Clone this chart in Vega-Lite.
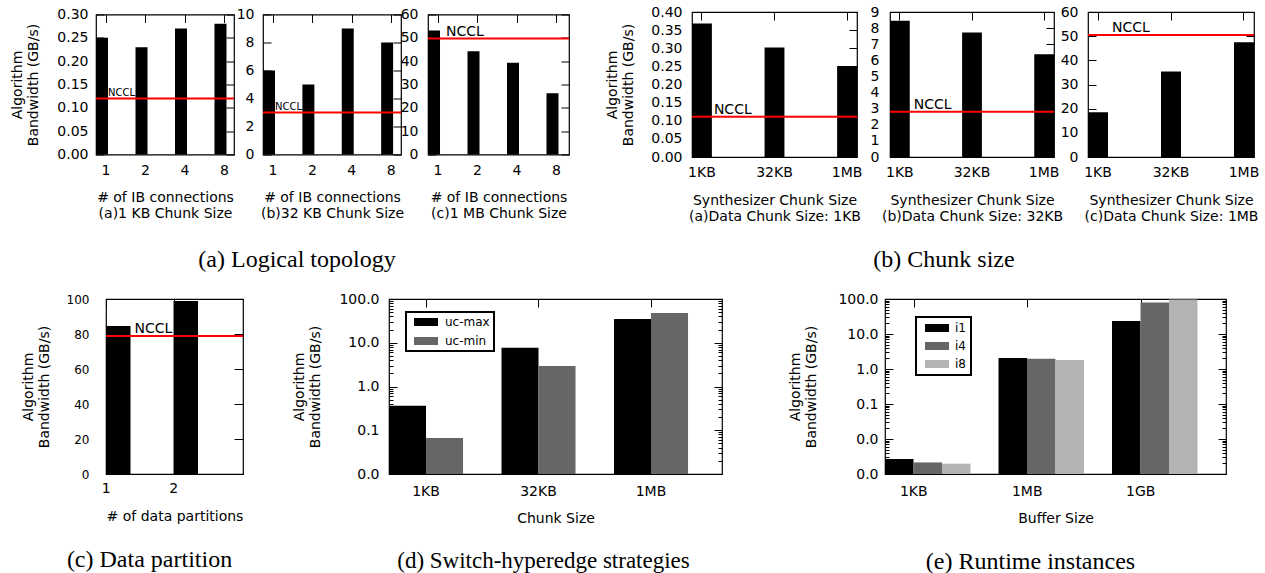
{
"$schema": "https://vega.github.io/schema/vega-lite/v6.json",
"padding": {"left": 10, "top": 4, "right": 0, "bottom": 0},
"config": {
  "font": "DejaVu Sans",
  "view": {"stroke": "black", "strokeWidth": 1.2},
  "axis": {"labelFontSize": 14, "titleFontSize": 14, "titleFontWeight": "normal", "labelColor": "black", "titleColor": "black", "tickColor": "black", "domain": false, "grid": false, "labelFont": "DejaVu Sans", "titleFont": "DejaVu Sans", "titleLineHeight": 16, "tickWidth": 1},
  "legend": {"strokeWidth": 2},
  "title": {"font": "Liberation Serif", "fontSize": 24, "fontWeight": "normal", "orient": "bottom", "anchor": "middle", "color": "black"}
},
"spacing": 287,
"bounds": "flush",
"resolve": {"scale": {"color": "independent", "xOffset": "independent"}, "legend": {"color": "independent"}},
"vconcat": [
{"hconcat": [
 {"width": 138, "height": 140,
  "layer": [
   {"data": {"values": [{"n":"1","bw":0.25},{"n":"2","bw":0.23},{"n":"4","bw":0.27},{"n":"8","bw":0.28}]},
    "mark": {"type":"bar","color":"black"},
    "encoding": {
     "x": {"field":"n","type":"ordinal","scale":{"domain":["1","2","4","8"],"paddingInner":0.696,"paddingOuter":0.095,"align":0},"axis":{"labelAngle":0,"ticks":false,"labelOffset":4,"labelPadding":9,"title":["# of IB connections","(a)1 KB Chunk Size"],"titlePadding":13}},
     "y": {"field":"bw","type":"quantitative","scale":{"domain":[0,0.3],"nice":false},"axis":{"values":[0,0.05,0.1,0.15,0.2,0.25,0.3],"format":".2f","tickSize":-8,"labelPadding":16,"title":["Algorithm","Bandwidth (GB/s)"],"titlePadding":16}}
    }},
   {"data": {"values":[{"v":0.12,"at":"1","t":"NCCL"}]},
    "mark": {"type":"rule","color":"red","strokeWidth":2},
    "encoding": {"y":{"field":"v","type":"quantitative","axis":null}}},
   {"data": {"values":[{"v":0.12,"at":"1","t":"NCCL"}]},
    "mark": {"type":"text","align":"left","baseline":"alphabetic","fontSize":10,"dy":-3,"color":"black"},
    "encoding": {
     "x":{"field":"at","type":"ordinal","bandPosition":1,"axis":{"orient":"top","labels":false,"tickSize":-8,"tickOffset":4,"title":null}},
     "y":{"field":"v","type":"quantitative","axis":{"orient":"right","labels":false,"tickSize":-8,"title":null,"values":[0,0.05,0.1,0.15,0.2,0.25,0.3]}},
     "text":{"field":"t"}}}
  ],
  "resolve":{"axis":{"x":"independent","y":"independent"}}},
 {"width": 29, "height": 10, "data": {"values": []}, "mark": "rule", "encoding": {}, "view": {"stroke": null}},
 {"width": 138, "height": 140,
  "title": {"text": "(a) Logical topology", "dx": -35, "offset": 27},
  "layer": [
   {"data": {"values": [{"n":"1","bw":6},{"n":"2","bw":5},{"n":"4","bw":9},{"n":"8","bw":8}]},
    "mark": {"type":"bar","color":"black"},
    "encoding": {
     "x": {"field":"n","type":"ordinal","scale":{"domain":["1","2","4","8"],"paddingInner":0.696,"paddingOuter":0.1,"align":0},"axis":{"labelAngle":0,"ticks":false,"labelOffset":4,"labelPadding":9,"title":["# of IB connections","(b)32 KB Chunk Size"],"titlePadding":13}},
     "y": {"field":"bw","type":"quantitative","scale":{"domain":[0,10],"nice":false},"axis":{"values":[0,2,4,6,8,10],"format":"d","tickSize":-8,"labelPadding":17,"title":null}}
    }},
   {"data": {"values":[{"v":3,"at":"1","t":"NCCL"}]},
    "mark": {"type":"rule","color":"red","strokeWidth":2},
    "encoding": {"y":{"field":"v","type":"quantitative","axis":null}}},
   {"data": {"values":[{"v":3,"at":"1","t":"NCCL"}]},
    "mark": {"type":"text","align":"left","baseline":"alphabetic","fontSize":10,"dy":-3,"color":"black"},
    "encoding": {
     "x":{"field":"at","type":"ordinal","bandPosition":1,"axis":{"orient":"top","labels":false,"tickSize":-8,"tickOffset":4,"title":null}},
     "y":{"field":"v","type":"quantitative","axis":{"orient":"right","labels":false,"tickSize":-8,"title":null,"values":[0,2,4,6,8,10]}},
     "text":{"field":"t"}}}
  ],
  "resolve":{"axis":{"x":"independent","y":"independent"}}},
 {"width": 27, "height": 10, "data": {"values": []}, "mark": "rule", "encoding": {}, "view": {"stroke": null}},
 {"width": 141, "height": 140,
  "layer": [
   {"data": {"values": [{"n":"1","bw":53.1},{"n":"2","bw":44.3},{"n":"4","bw":39.3},{"n":"8","bw":26.3}]},
    "mark": {"type":"bar","color":"black"},
    "encoding": {
     "x": {"field":"n","type":"ordinal","scale":{"domain":["1","2","4","8"],"paddingInner":0.696,"paddingOuter":0.133,"align":0},"axis":{"labelAngle":0,"ticks":false,"labelOffset":4,"labelPadding":9,"title":["# of IB connections","(c)1 MB Chunk Size"],"titlePadding":13}},
     "y": {"field":"bw","type":"quantitative","scale":{"domain":[0,60],"nice":false},"axis":{"values":[0,10,20,30,40,50,60],"format":"d","tickSize":-8,"labelPadding":18,"title":null}}
    }},
   {"data": {"values":[{"v":49.7,"at":"1","t":"NCCL"}]},
    "mark": {"type":"rule","color":"red","strokeWidth":2},
    "encoding": {"y":{"field":"v","type":"quantitative","axis":null}}},
   {"data": {"values":[{"v":49.7,"at":"1","t":"NCCL"}]},
    "mark": {"type":"text","align":"left","baseline":"alphabetic","fontSize":14,"dx":6,"dy":-3,"color":"black"},
    "encoding": {
     "x":{"field":"at","type":"ordinal","bandPosition":1,"axis":{"orient":"top","labels":false,"tickSize":-8,"tickOffset":4,"title":null}},
     "y":{"field":"v","type":"quantitative","axis":{"orient":"right","labels":false,"tickSize":-8,"title":null,"values":[0,10,20,30,40,50,60]}},
     "text":{"field":"t"}}}
  ],
  "resolve":{"axis":{"x":"independent","y":"independent"}}},
 {"width": 123, "height": 10, "data": {"values": []}, "mark": "rule", "encoding": {}, "view": {"stroke": null}},
 {"width": 165, "height": 145,
  "layer": [
   {"data": {"values": [{"c":"1KB","bw":0.368},{"c":"32KB","bw":0.302},{"c":"1MB","bw":0.251}]},
    "mark": {"type":"bar","color":"black"},
    "encoding": {
     "x": {"field":"c","type":"nominal","scale":{"domain":["1KB","32KB","1MB"],"paddingInner":0.726,"paddingOuter":0},"axis":{"labelAngle":0,"ticks":false,"labelPadding":8,"title":["Synthesizer Chunk Size","(a)Data Chunk Size: 1KB"],"titlePadding":14}},
     "y": {"field":"bw","type":"quantitative","scale":{"domain":[0,0.4],"nice":false},"axis":{"values":[0,0.05,0.1,0.15,0.2,0.25,0.3,0.35,0.4],"format":".2f","tickSize":-8,"labelPadding":18,"title":["Algorithm","Bandwidth (GB/s)"],"titlePadding":15}}
    }},
   {"data": {"values":[{"v":0.111,"at":"1KB","t":"NCCL"}]},
    "mark": {"type":"rule","color":"red","strokeWidth":2},
    "encoding": {"y":{"field":"v","type":"quantitative","axis":null}}},
   {"data": {"values":[{"v":0.111,"at":"1KB","t":"NCCL"}]},
    "mark": {"type":"text","align":"left","baseline":"alphabetic","fontSize":14,"dx":2,"dy":-3,"color":"black"},
    "encoding": {
     "x":{"field":"at","type":"nominal","bandPosition":1,"axis":{"orient":"top","labels":false,"tickSize":-8,"title":null}},
     "y":{"field":"v","type":"quantitative","axis":{"orient":"right","labels":false,"tickSize":-8,"title":null,"values":[0,0.05,0.1,0.15,0.2,0.25,0.3,0.35,0.4]}},
     "text":{"field":"t"}}}
  ],
  "resolve":{"axis":{"x":"independent","y":"independent"}}},
 {"width": 33, "height": 10, "data": {"values": []}, "mark": "rule", "encoding": {}, "view": {"stroke": null}},
 {"width": 164, "height": 145,
  "title": {"text": "(b) Chunk size", "dx": -28, "offset": 25},
  "layer": [
   {"data": {"values": [{"c":"1KB","bw":8.45},{"c":"32KB","bw":7.73},{"c":"1MB","bw":6.38}]},
    "mark": {"type":"bar","color":"black"},
    "encoding": {
     "x": {"field":"c","type":"nominal","scale":{"domain":["1KB","32KB","1MB"],"paddingInner":0.726,"paddingOuter":0},"axis":{"labelAngle":0,"ticks":false,"labelPadding":8,"title":["Synthesizer Chunk Size","(b)Data Chunk Size: 32KB"],"titlePadding":14}},
     "y": {"field":"bw","type":"quantitative","scale":{"domain":[0,9],"nice":false},"axis":{"values":[0,1,2,3,4,5,6,7,8,9],"format":"d","tickSize":-8,"labelPadding":19,"title":null}}
    }},
   {"data": {"values":[{"v":2.81,"at":"1KB","t":"NCCL"}]},
    "mark": {"type":"rule","color":"red","strokeWidth":2},
    "encoding": {"y":{"field":"v","type":"quantitative","axis":null}}},
   {"data": {"values":[{"v":2.81,"at":"1KB","t":"NCCL"}]},
    "mark": {"type":"text","align":"left","baseline":"alphabetic","fontSize":14,"dx":4,"dy":-3,"color":"black"},
    "encoding": {
     "x":{"field":"at","type":"nominal","bandPosition":1,"axis":{"orient":"top","labels":false,"tickSize":-8,"title":null}},
     "y":{"field":"v","type":"quantitative","axis":{"orient":"right","labels":false,"tickSize":-8,"title":null,"values":[0,1,2,3,4,5,6,7,8,9]}},
     "text":{"field":"t"}}}
  ],
  "resolve":{"axis":{"x":"independent","y":"independent"}}},
 {"width": 34, "height": 10, "data": {"values": []}, "mark": "rule", "encoding": {}, "view": {"stroke": null}},
 {"width": 166, "height": 145,
  "layer": [
   {"data": {"values": [{"c":"1KB","bw":18.5},{"c":"32KB","bw":35.4},{"c":"1MB","bw":47.5}]},
    "mark": {"type":"bar","color":"black"},
    "encoding": {
     "x": {"field":"c","type":"nominal","scale":{"domain":["1KB","32KB","1MB"],"paddingInner":0.726,"paddingOuter":0},"axis":{"labelAngle":0,"ticks":false,"labelPadding":8,"title":["Synthesizer Chunk Size","(c)Data Chunk Size: 1MB"],"titlePadding":14}},
     "y": {"field":"bw","type":"quantitative","scale":{"domain":[0,60],"nice":false},"axis":{"values":[0,10,20,30,40,50,60],"format":"d","tickSize":-8,"labelPadding":18,"title":null}}
    }},
   {"data": {"values":[{"v":50.5,"at":"1KB","t":"NCCL"}]},
    "mark": {"type":"rule","color":"red","strokeWidth":2},
    "encoding": {"y":{"field":"v","type":"quantitative","axis":null}}},
   {"data": {"values":[{"v":50.5,"at":"1KB","t":"NCCL"}]},
    "mark": {"type":"text","align":"left","baseline":"alphabetic","fontSize":14,"dx":4,"dy":-3,"color":"black"},
    "encoding": {
     "x":{"field":"at","type":"nominal","bandPosition":1,"axis":{"orient":"top","labels":false,"tickSize":-8,"title":null}},
     "y":{"field":"v","type":"quantitative","axis":{"orient":"right","labels":false,"tickSize":-8,"title":null,"values":[0,10,20,30,40,50,60]}},
     "text":{"field":"t"}}}
  ],
  "resolve":{"axis":{"x":"independent","y":"independent"}}}
 ], "spacing": 0, "bounds": "flush", "center": true},
{"hconcat": [
 {"width": 10, "height": 10, "data": {"values": []}, "mark": "rule", "encoding": {}, "view": {"stroke": null}},
 {"width": 137, "height": 175,
  "title": {"text": "(c) Data partition", "dx": -25, "offset": 25},
  "layer": [
   {"data": {"values": [{"n":"1","bw":84.6},{"n":"2","bw":98.9}]},
    "mark": {"type":"bar","color":"black"},
    "encoding": {
     "x": {"field":"n","type":"ordinal","scale":{"domain":["1","2"],"paddingInner":0.637,"paddingOuter":0.333,"align":0},"axis":{"labelAngle":0,"ticks":false,"labelOffset":-12,"labelPadding":7,"title":"# of data partitions","titlePadding":14}},
     "y": {"field":"bw","type":"quantitative","scale":{"domain":[0,100],"nice":false},"axis":{"values":[0,20,40,60,80,100],"format":"d","tickSize":-8,"labelFontSize":12,"labelPadding":25,"title":["Algorithm","Bandwidth (GB/s)"],"titlePadding":15}}
    }},
   {"data": {"values":[{"v":78.9,"at":"1","t":"NCCL"}]},
    "mark": {"type":"rule","color":"red","strokeWidth":2},
    "encoding": {"y":{"field":"v","type":"quantitative","axis":null}}},
   {"data": {"values":[{"v":78.9,"at":"1","t":"NCCL"}]},
    "mark": {"type":"text","align":"left","baseline":"alphabetic","fontSize":14,"dx":4,"dy":-3,"color":"black"},
    "encoding": {
     "x":{"field":"at","type":"ordinal","bandPosition":1,"axis":{"orient":"top","labels":false,"tickSize":-8,"tickOffset":-12,"title":null}},
     "y":{"field":"v","type":"quantitative","axis":{"orient":"right","labels":false,"tickSize":-9,"title":null,"values":[0,20,40,60,80,100]}},
     "text":{"field":"t"}}}
  ],
  "resolve":{"axis":{"x":"independent","y":"independent"}}},
 {"width": 146, "height": 10, "data": {"values": []}, "mark": "rule", "encoding": {}, "view": {"stroke": null}},
 {"width": 333, "height": 175,
  "title": {"text": "(d) Switch-hyperedge strategies", "dx": -12, "offset": 25, "fontSize": 23},
  "data": {"values": [
   {"c":"1KB","s":"uc-max","bw":0.364},{"c":"1KB","s":"uc-min","bw":0.0665},
   {"c":"32KB","s":"uc-max","bw":7.7},{"c":"32KB","s":"uc-min","bw":2.94},
   {"c":"1MB","s":"uc-max","bw":34.9},{"c":"1MB","s":"uc-min","bw":47.9}]},
  "layer": [
   {"transform": [{"filter": "datum.s == 'uc-max'"}],
    "mark": {"type":"bar"},
    "encoding": {
     "x": {"field":"c","type":"nominal","scale":{"domain":["1KB","32KB","1MB"],"paddingInner":0.342,"paddingOuter":0.151,"align":0},"axis":{"labelAngle":0,"ticks":false,"labelPadding":10,"title":"Chunk Size","titlePadding":13}},
     "xOffset": {"field":"s","type":"nominal","scale":{"domain":["uc-max","uc-min"],"paddingInner":0,"paddingOuter":0}},
     "y": {"field":"bw","type":"quantitative","scale":{"type":"log","domain":[0.01,100],"nice":false},"axis":{"values":[0.01,0.02,0.03,0.04,0.05,0.06,0.07,0.08,0.09,0.1,0.2,0.3,0.4,0.5,0.6,0.7,0.8,0.9,1,2,3,4,5,6,7,8,9,10,20,30,40,50,60,70,80,90,100],"format":".1f","labelExpr":"indexof([0.01,0.1,1,10,100], datum.value) >= 0 ? datum.label : ''","tickSize":-8,"tickDash":{"condition":{"test":"indexof([0.01,0.1,1,10,100], datum.value) >= 0","value":[20,1]},"value":[4,20]},"labelPadding":18,"title":["Algorithm","Bandwidth (GB/s)"],"titlePadding":16}},
     "y2": {"datum": 0.01},
     "color": {"field":"s","type":"nominal","scale":{"domain":["uc-max","uc-min"],"range":["#000000","#666666"]},"legend":{"orient":"none","legendX":17,"legendY":13,"title":null,"strokeColor":"black","fillColor":"white","padding":4,"symbolType":"M-3,-1H3V1H-3Z","symbolSize":64,"symbolOffset":10,"labelOffset":13,"labelFontSize":12,"rowPadding":7,"symbolStrokeWidth":0}}
    }},
   {"transform": [{"filter": "datum.s == 'uc-min'"}],
    "mark": {"type":"bar"},
    "encoding": {
     "x": {"field":"c","type":"nominal","axis":{"orient":"top","labels":false,"tickSize":-8,"title":null}},
     "xOffset": {"field":"s","type":"nominal"},
     "y": {"field":"bw","type":"quantitative","axis":{"orient":"right","labels":false,"title":null,"values":[0.01,0.02,0.03,0.04,0.05,0.06,0.07,0.08,0.09,0.1,0.2,0.3,0.4,0.5,0.6,0.7,0.8,0.9,1,2,3,4,5,6,7,8,9,10,20,30,40,50,60,70,80,90,100],"tickSize":-8,"tickDash":{"condition":{"test":"indexof([0.01,0.1,1,10,100], datum.value) >= 0","value":[20,1]},"value":[4,20]}}},
     "y2": {"datum": 0.01},
     "color": {"field":"s","type":"nominal"}
    }}
  ],
  "resolve":{"axis":{"x":"independent","y":"independent"}}},
 {"width": 163, "height": 10, "data": {"values": []}, "mark": "rule", "encoding": {}, "view": {"stroke": null}},
 {"width": 341, "height": 175,
  "title": {"text": "(e) Runtime instances", "dx": -25, "offset": 25},
  "data": {"values": [
   {"c":"1KB","s":"i1","bw":0.00268},{"c":"1KB","s":"i4","bw":0.00214},{"c":"1KB","s":"i8","bw":0.00197},
   {"c":"1MB","s":"i1","bw":2.06},{"c":"1MB","s":"i4","bw":1.97},{"c":"1MB","s":"i8","bw":1.81},
   {"c":"1GB","s":"i1","bw":23.5},{"c":"1GB","s":"i4","bw":80},{"c":"1GB","s":"i8","bw":97}]},
  "layer": [
   {"transform": [{"filter": "datum.s == 'i1'"}],
    "mark": {"type":"bar"},
    "encoding": {
     "x": {"field":"c","type":"nominal","scale":{"domain":["1KB","1MB","1GB"],"paddingInner":0.247,"paddingOuter":0.1256,"align":0},"axis":{"labelAngle":0,"ticks":false,"labelOffset":-14,"labelPadding":10,"title":"Buffer Size","titlePadding":13}},
     "xOffset": {"field":"s","type":"nominal","scale":{"domain":["i1","i4","i8"],"paddingInner":0,"paddingOuter":0}},
     "y": {"field":"bw","type":"quantitative","scale":{"type":"log","domain":[0.001,100],"nice":false},"axis":{"values":[0.001,0.002,0.003,0.004,0.005,0.006,0.007,0.008,0.009,0.01,0.02,0.03,0.04,0.05,0.06,0.07,0.08,0.09,0.1,0.2,0.3,0.4,0.5,0.6,0.7,0.8,0.9,1,2,3,4,5,6,7,8,9,10,20,30,40,50,60,70,80,90,100],"format":".1f","labelExpr":"indexof([0.001,0.01,0.1,1,10,100], datum.value) >= 0 ? datum.label : ''","tickSize":-8,"tickDash":{"condition":{"test":"indexof([0.001,0.01,0.1,1,10,100], datum.value) >= 0","value":[20,1]},"value":[4,20]},"labelPadding":15,"title":["Algorithm","Bandwidth (GB/s)"],"titlePadding":19}},
     "y2": {"datum": 0.001},
     "color": {"field":"s","type":"nominal","scale":{"domain":["i1","i4","i8"],"range":["#000000","#666666","#b3b3b3"]},"legend":{"orient":"none","legendX":31,"legendY":18,"title":null,"strokeColor":"black","fillColor":"white","padding":5,"symbolType":"M-3,-1H3V1H-3Z","symbolSize":64,"symbolOffset":10,"labelOffset":12,"labelFontSize":12,"rowPadding":6,"symbolStrokeWidth":0}}
    }},
   {"transform": [{"filter": "datum.s == 'i4'"}],
    "mark": {"type":"bar"},
    "encoding": {
     "x": {"field":"c","type":"nominal","axis":{"orient":"top","labels":false,"tickSize":-8,"tickOffset":-14,"title":null}},
     "xOffset": {"field":"s","type":"nominal"},
     "y": {"field":"bw","type":"quantitative","axis":{"orient":"right","labels":false,"title":null,"values":[0.001,0.002,0.003,0.004,0.005,0.006,0.007,0.008,0.009,0.01,0.02,0.03,0.04,0.05,0.06,0.07,0.08,0.09,0.1,0.2,0.3,0.4,0.5,0.6,0.7,0.8,0.9,1,2,3,4,5,6,7,8,9,10,20,30,40,50,60,70,80,90,100],"tickSize":-8,"tickDash":{"condition":{"test":"indexof([0.001,0.01,0.1,1,10,100], datum.value) >= 0","value":[20,1]},"value":[4,20]}}},
     "y2": {"datum": 0.001},
     "color": {"field":"s","type":"nominal"}
    }},
   {"transform": [{"filter": "datum.s == 'i8'"}],
    "mark": {"type":"bar","clip":true},
    "encoding": {
     "x": {"field":"c","type":"nominal","axis":null},
     "xOffset": {"field":"s","type":"nominal"},
     "y": {"field":"bw","type":"quantitative","axis":null},
     "y2": {"datum": 0.001},
     "color": {"field":"s","type":"nominal"}
    }}
  ],
  "resolve":{"axis":{"x":"independent","y":"independent"}}}
 ], "spacing": 0, "bounds": "flush",
 "resolve": {"scale": {"color": "independent", "xOffset": "independent"}, "legend": {"color": "independent"}}}
]
}
